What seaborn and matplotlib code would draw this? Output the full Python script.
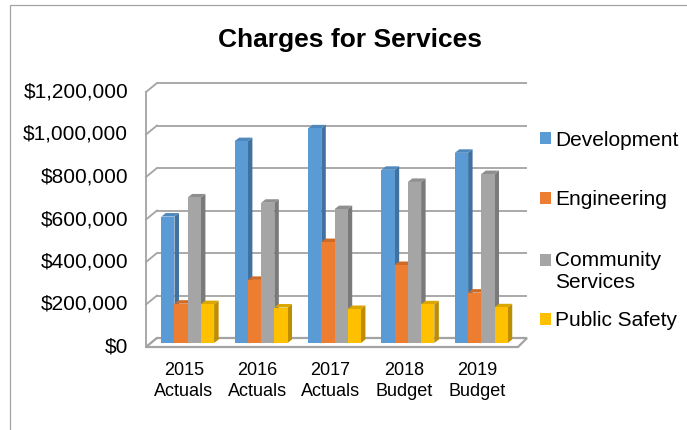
import matplotlib
matplotlib.use("Agg")
import matplotlib.pyplot as plt
import numpy as np
import pandas as pd
import seaborn as sns
from matplotlib.patches import Polygon, Rectangle
from matplotlib.legend_handler import HandlerPatch
from matplotlib.ticker import FixedLocator, FuncFormatter
from matplotlib.transforms import ScaledTranslation

# ---- data -------------------------------------------------------------
years = ["2015\nActuals", "2016\nActuals", "2017\nActuals", "2018\nBudget", "2019\nBudget"]
departments = ["Development", "Engineering", "Community Services", "Public Safety"]
legend_labels = ["Development", "Engineering", "Community\nServices", "Public Safety"]
development = [595000, 950000, 1010000, 815000, 895000]
engineering = [185000, 297000, 475000, 367000, 237000]
community_services = [685000, 660000, 630000, 758000, 795000]
public_safety = [183000, 167000, 160000, 182000, 168000]
y_ticks = [0, 200000, 400000, 600000, 800000, 1000000, 1200000]

front_colors = ["#5B9BD5", "#ED7D31", "#A5A5A5", "#FFC000"]
side_colors = ["#41729F", "#AF5C22", "#7A7A7A", "#BD8E00"]
top_colors = ["#4F88BD", "#CF6B27", "#8F8F8F", "#DBA600"]
wall_color = "#A3A3A3"

df = pd.DataFrame({
    "year": np.repeat(years, len(departments)),
    "department": departments * len(years),
    "value": np.ravel(np.column_stack([development, engineering,
                                       community_services, public_safety])),
})

# ---- figure -----------------------------------------------------------
W, H = 687, 430
plt.rcParams["font.family"] = ["Liberation Sans", "DejaVu Sans"]
fig = plt.figure(figsize=(W / 100, H / 100), dpi=100)

# outer chart frame
fig.patches.append(Rectangle((10 / W, -0.2), 1.2, 1.2 - 4.5 / H,
                             transform=fig.transFigure, fill=False,
                             edgecolor=wall_color, linewidth=0.9))

ax_l, ax_r, ax_b, ax_t = 151, 518, 343, 88
ax = fig.add_axes([ax_l / W, 1 - ax_b / H, (ax_r - ax_l) / W, (ax_b - ax_t) / H])

sns.barplot(data=df, x="year", y="value", hue="department",
            hue_order=departments, palette=front_colors, saturation=1,
            width=0.72, linewidth=0, legend=False, ax=ax, zorder=3)

ymax = y_ticks[-1]
ax.set_xlim(-0.5, len(years) - 0.5)
ax.set_ylim(0, ymax)
ax.set_xlabel("")
ax.set_ylabel("")
for s in ax.spines.values():
    s.set_visible(False)
ax.set_facecolor("none")

# pixel -> data conversions for the pseudo-3D depth
ux = (len(years)) / (ax_r - ax_l)
uy = ymax / (ax_b - ax_t)
x0, x1 = -0.5, len(years) - 0.5
bdx, bdy = 6 * ux, 5 * uy      # back wall offset
fdx, fdy = -5 * ux, -4 * uy    # front plane offset
ddx, ddy = 4.5 * ux, 3.5 * uy  # bar depth

# back wall gridlines
for v in y_ticks:
    ax.plot([x0 + bdx, x1 + bdx + 3 * ux], [v + bdy, v + bdy], color=wall_color,
            lw=1.3, clip_on=False, zorder=1, solid_capstyle="butt")
    # left wall diagonals
    ax.plot([x0 + fdx, x0 + bdx], [v + fdy, v + bdy], color=wall_color,
            lw=1.3, clip_on=False, zorder=1)
# left wall front edge
ax.plot([x0 + fdx, x0 + fdx], [fdy, ymax + fdy], color=wall_color,
        lw=1.3, clip_on=False, zorder=1)
# floor
ax.add_patch(Polygon([(x0 + fdx, fdy), (x1 + fdx + 5 * ux, fdy),
                      (x1 + bdx + 3 * ux, bdy), (x0 + bdx, bdy)], closed=True,
                     facecolor="white", edgecolor=wall_color, lw=1.6,
                     clip_on=False, zorder=1.5))

# side and top faces for every bar
for k, cont in enumerate(ax.containers):
    for rect in cont.patches:
        bx, bw, bh = rect.get_x(), rect.get_width(), rect.get_height()
        side = Polygon([(bx + bw, 0), (bx + bw + ddx, ddy),
                        (bx + bw + ddx, bh + ddy), (bx + bw, bh)], closed=True,
                       facecolor=side_colors[k], edgecolor="none",
                       clip_on=False, zorder=2.5)
        top = Polygon([(bx, bh), (bx + ddx, bh + ddy),
                       (bx + bw + ddx, bh + ddy), (bx + bw, bh)], closed=True,
                      facecolor=top_colors[k], edgecolor="none",
                      clip_on=False, zorder=2.5)
        ax.add_patch(side)
        ax.add_patch(top)
        rect.set_clip_on(False)

# ticks
ax.yaxis.set_major_locator(FixedLocator(y_ticks))
ax.yaxis.set_major_formatter(FuncFormatter(lambda v, p: f"${v:,.0f}"))
ax.tick_params(axis="y", length=0, pad=16.5, labelsize=15, labelcolor="black")
ax.tick_params(axis="x", length=0, pad=13.5, labelsize=13, labelcolor="black")
for t in ax.get_xticklabels():
    t.set_linespacing(1.3)
for t in ax.yaxis.get_major_ticks():
    t.label1.set_transform(t.label1.get_transform()
                           + ScaledTranslation(0, -0.02, fig.dpi_scale_trans))
for t in ax.xaxis.get_major_ticks():
    t.label1.set_transform(t.label1.get_transform()
                           + ScaledTranslation(-0.04, 0, fig.dpi_scale_trans))

# title
fig.text(350.5 / W, 1 - 40 / H, "Charges for Services", ha="center",
         va="center", fontsize=19, fontweight="bold")


# legend: one entry per series, marker aligned with first text line
class SquareHandler(HandlerPatch):
    def __init__(self, lift=0.0):
        super().__init__()
        self.lift = lift

    def create_artists(self, legend, orig_handle, xdescent, ydescent,
                       width, height, fontsize, trans):
        p = Rectangle((-xdescent, -ydescent + self.lift), width, height,
                      facecolor=orig_handle.get_facecolor(), edgecolor="none",
                      transform=trans)
        return [p]


legend_centers = [140, 200, 271.5, 321]
for k, label in enumerate(legend_labels):
    proxy = Rectangle((0, 0), 1, 1, facecolor=front_colors[k])
    lift = 8.3 if "\n" in label else 0.0
    leg = fig.legend(handles=[proxy], labels=[label], loc="center left",
                     bbox_to_anchor=(540 / W, 1 - legend_centers[k] / H),
                     frameon=False, fontsize=15, handlelength=0.53,
                     handleheight=0.53, handletextpad=0.19, borderpad=0,
                     borderaxespad=0,
                     handler_map={Rectangle: SquareHandler(lift)})
    for t in leg.get_texts():
        t.set_linespacing(1.2)

fig.savefig("out.png", dpi=100)
